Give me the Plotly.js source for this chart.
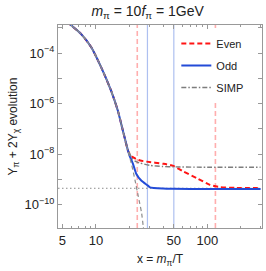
<!DOCTYPE html>
<html>
<head>
<meta charset="utf-8">
<script src="https://cdn.plot.ly/plotly-3.0.1.min.js"></script>
<style>html,body{margin:0;padding:0;background:#fff;}#chart{width:266px;height:271px;}</style>
</head>
<body>
<div id="chart"></div>
<script>
// Even
var evenX = [5.5, 5.81, 7.38, 9.08, 11.16, 13.7, 15.74, 17.45, 19.36, 20.0, 21.0, 23.0, 25.0, 28.5, 40.2, 49.4, 60.7, 80.1, 105.5, 129.6, 180, 300];
var evenY = [1.7e-3, 1.41e-3, 5.6e-4, 1.7e-4, 2.7e-5, 3.2e-6, 5.2e-7, 8.5e-8, 1.4e-8, 1.05e-8, 7.9e-9, 6.3e-9, 5.5e-9, 5.0e-9, 4.1e-9, 3.4e-9, 2.04e-9, 1.12e-9, 6.0e-10, 4.9e-10, 4.57e-10, 4.47e-10];
// Odd
var oddX = [5.5, 5.81, 7.38, 9.08, 11.16, 13.7, 15.74, 17.45, 19.36, 20.0, 21.5, 23.0, 25.5, 29.3, 30.5, 40, 49, 100, 300];
var oddY = [1.7e-3, 1.41e-3, 5.6e-4, 1.7e-4, 2.7e-5, 3.2e-6, 5.2e-7, 8.5e-8, 1.4e-8, 8.9e-9, 4.1e-9, 1.66e-9, 8.9e-10, 5.6e-10, 4.8e-10, 4.27e-10, 4.17e-10, 4.1e-10, 4.1e-10];
// SIMP
var simpX = [5.5, 5.81, 7.38, 9.08, 11.16, 13.7, 15.74, 17.45, 19.36, 20.2, 21.0, 22.5, 24.8, 30.5, 40, 49.4, 100, 300];
var simpY = [1.7e-3, 1.41e-3, 5.6e-4, 1.7e-4, 2.7e-5, 3.2e-6, 5.2e-7, 8.5e-8, 1.4e-8, 1.0e-8, 6.9e-9, 5.2e-9, 4.4e-9, 3.55e-9, 3.2e-9, 3.1e-9, 3.0e-9, 3.0e-9];
// Equilibrium
var eqX = [5.5, 5.81, 7.38, 9.08, 11.16, 13.7, 15.74, 17.45, 19.36, 21.0, 22.4, 24.0, 25.7, 26.6, 27.4];
var eqY = [1.7e-3, 1.41e-3, 5.6e-4, 1.7e-4, 2.7e-5, 3.2e-6, 5.2e-7, 8.5e-8, 1.4e-8, 3.5e-9, 9.5e-10, 2.1e-10, 4.6e-11, 1.35e-11, 5.6e-12];
// Reference lines
var redV = [23.5, 118];
var blueV = [29, 50];
var obsY = 4.4e-10;
// Ticks
var xTickVals = [5, 10, 50, 100];
var xTickText = ['5', '10', '50', '100'];
var xMinorVals = [6, 7, 8, 9, 20, 30, 40, 60, 70, 80, 90, 200, 300];
var yTickVals = [1e-10, 1e-9, 1e-8, 1e-7, 1e-6, 1e-5, 1e-4, 1e-3];
var yTickText = ['10<sup>\u221210</sup>', '', '10<sup>\u22128</sup>', '', '10<sup>\u22126</sup>', '', '10<sup>\u22124</sup>', ''];

var FONT = 'Liberation Sans, Arial, sans-serif';
var traces = [
  {x: evenX, y: evenY, mode: 'lines', name: 'Even', legendgroup: 'a',
   line: {color: 'rgb(255,20,20)', width: 2, dash: '5px,3px', shape: 'spline', smoothing: 0.6}},
  {x: oddX, y: oddY, mode: 'lines', name: 'Odd', legendgroup: 'b',
   line: {color: 'rgb(35,75,215)', width: 2, shape: 'spline', smoothing: 0.6}},
  {x: simpX, y: simpY, mode: 'lines', name: 'SIMP', legendgroup: 'c',
   line: {color: 'rgb(125,125,125)', width: 1.4, dash: '5px,2px,1.5px,2px', shape: 'spline', smoothing: 0.6}},
  {x: eqX, y: eqY, mode: 'lines', name: 'eq', showlegend: false,
   line: {color: 'rgb(140,140,140)', width: 1.2, dash: '4px,3px', shape: 'spline', smoothing: 0.6}}
];

var shapes = [];
redV.forEach(function (v) {
  shapes.push({type: 'line', xref: 'x', yref: 'paper', x0: v, x1: v, y0: 0, y1: 1, layer: 'below',
    line: {color: 'rgba(255,120,120,0.6)', width: 1.6, dash: '5px,3px'}});
});
blueV.forEach(function (v) {
  shapes.push({type: 'line', xref: 'x', yref: 'paper', x0: v, x1: v, y0: 0, y1: 1, layer: 'below',
    line: {color: 'rgba(120,150,230,0.6)', width: 1.2}});
});
shapes.push({type: 'line', xref: 'paper', yref: 'y', x0: 0, x1: 1, y0: obsY, y1: obsY, layer: 'below',
  line: {color: 'rgb(140,140,140)', width: 1, dash: '1.5px,2.5px'}});

var layout = {
  width: 266, height: 271,
  margin: {l: 58, r: 4, t: 25, b: 43},
  paper_bgcolor: '#fff', plot_bgcolor: '#fff',
  font: {family: FONT, color: '#222', size: 13},
  title: {text: '<i>m</i><sub>\u03c0</sub> = 10<i>f</i><sub>\u03c0</sub> = 1GeV', x: 0.555, xanchor: 'center',
          y: 0.958, yref: 'container', yanchor: 'middle', font: {family: FONT, size: 14, color: '#222'}},
  xaxis: {type: 'log', range: [Math.log10(4.57), Math.log10(309)],
          tickmode: 'array', tickvals: xTickVals, ticktext: xTickText,
          ticks: 'inside', ticklen: 4, tickcolor: '#999', tickwidth: 1,
          minor: {tickmode: 'array', tickvals: xMinorVals, ticks: 'inside', ticklen: 2, tickcolor: '#999'},
          showgrid: false, zeroline: false, showline: true, linecolor: '#999', linewidth: 1, mirror: 'ticks',
          tickfont: {size: 13, color: '#222'},
          title: {text: 'x = <i>m</i><sub>\u03c0</sub>/T', font: {size: 12, color: '#222'}, standoff: 8}},
  yaxis: {type: 'log', range: [-10.93, -2.89],
          tickmode: 'array', tickvals: yTickVals, ticktext: yTickText,
          ticks: 'inside', ticklen: 4, tickcolor: '#999', tickwidth: 1,
          showgrid: false, zeroline: false, showline: true, linecolor: '#999', linewidth: 1, mirror: 'ticks',
          tickfont: {size: 13, color: '#222'},
          title: {text: 'Y<sub>\u03c0</sub> + 2Y<sub>\u03c7</sub> evolution', font: {size: 12, color: '#222'}, standoff: 4}},
  showlegend: true,
  legend: {x: 0.58, y: 0.98, xanchor: 'left', yanchor: 'top', bgcolor: '#fff', borderwidth: 0,
           traceorder: 'grouped', tracegroupgap: 3, font: {size: 11, color: '#222'}},
  shapes: shapes
};

Plotly.newPlot('chart', traces, layout, {displayModeBar: false, staticPlot: true});
</script>
</body>
</html>
